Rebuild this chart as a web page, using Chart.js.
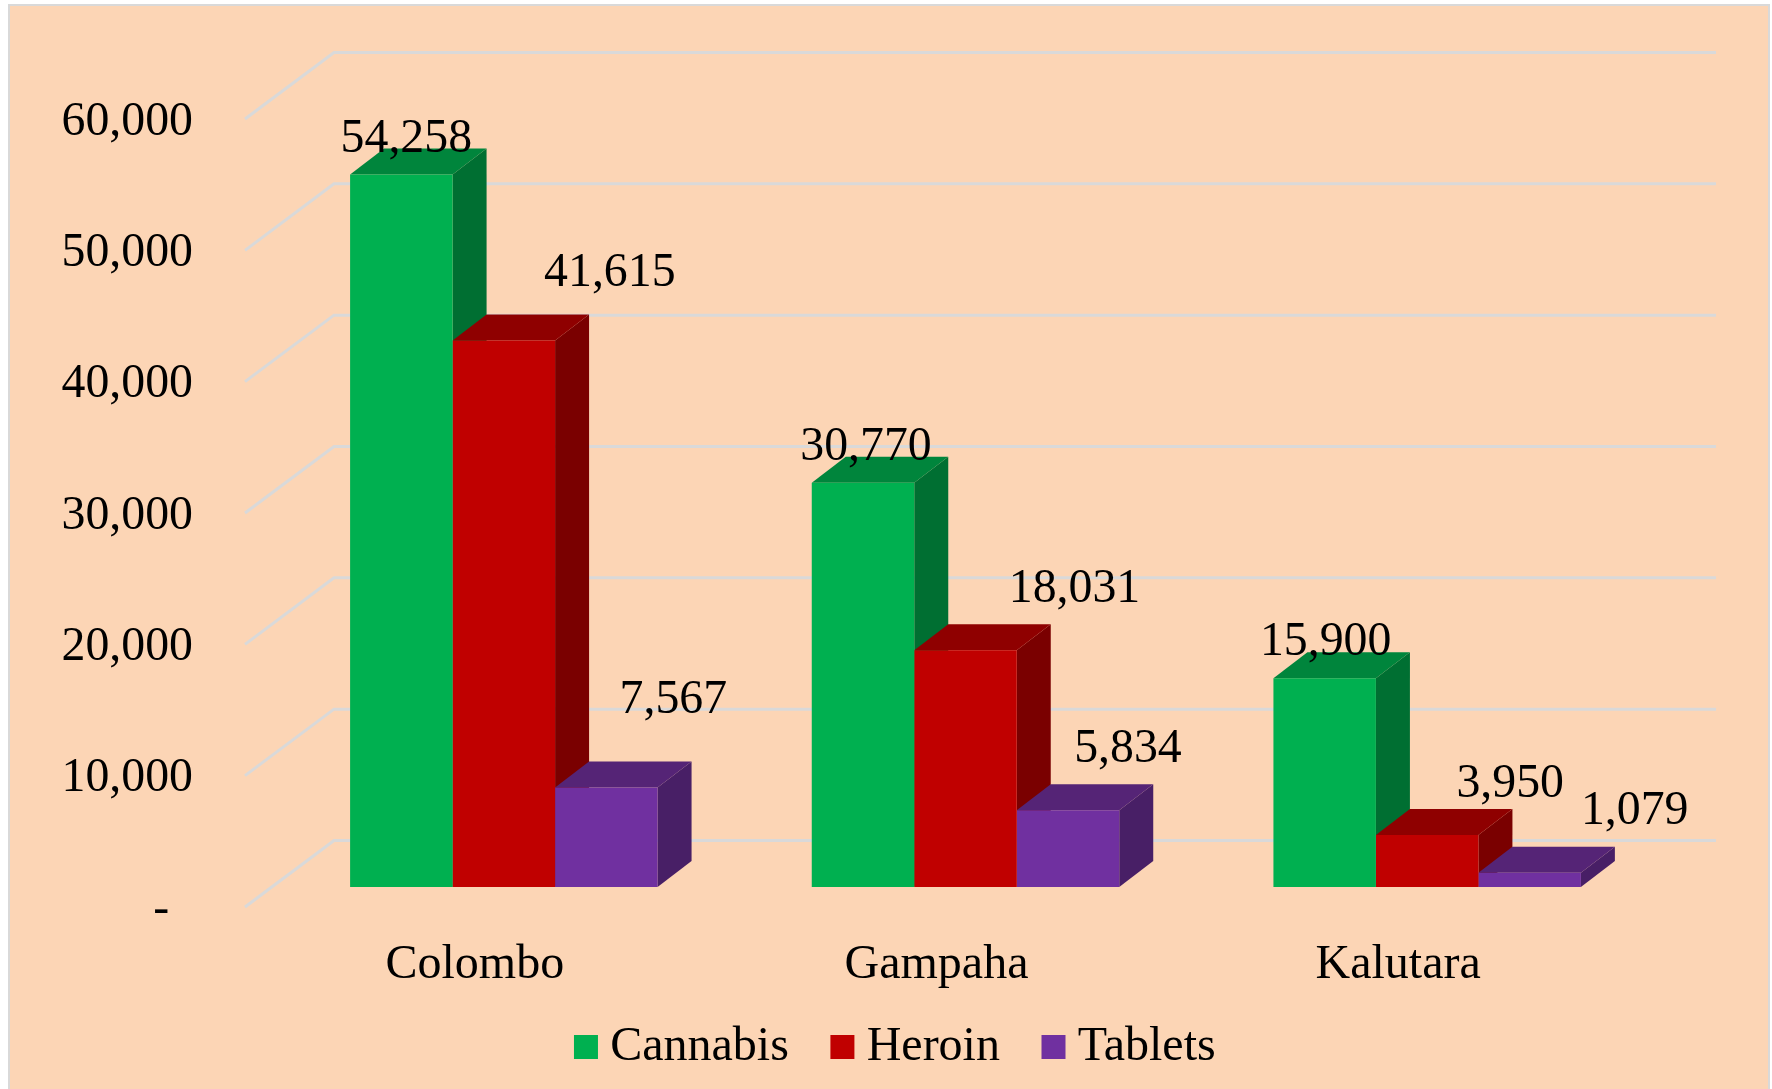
<!DOCTYPE html>
<html>
<head>
<meta charset="utf-8">
<script src="https://cdn.jsdelivr.net/npm/chart.js@4"></script>
<style>
html,body{margin:0;padding:0;background:#fff;overflow:hidden}
#panel{position:absolute;left:8px;top:4px;width:1762px;height:1085px;box-sizing:border-box;background:#FCD5B5;border:2px solid #D9D9D9;border-bottom:none}
#wrap{position:absolute;left:0;top:0;width:1772px;height:1089px}
</style>
</head>
<body>
<div id="panel"></div>
<div id="wrap"><canvas id="c" width="1772" height="1089"></canvas></div>
<script>
const categories = ['Colombo', 'Gampaha', 'Kalutara'];
const seriesNames = ['Cannabis', 'Heroin', 'Tablets'];
const cannabis = [54258, 30770, 15900];
const heroin = [41615, 18031, 3950];
const tablets = [7567, 5834, 1079];

const frontColors = ['#00B050', '#C00000', '#7030A0'];
const sideColors = ['#006F32', '#7A0000', '#481F66'];
const topColors = ['#00853C', '#8F0000', '#552476'];
const labelDx = [[5, 3, 1], [106, 109, 83], [67, 60, 105]];
const labelDy = [[-35, -35, -36], [-67, -61, -51], [-87, -61, -61]];

const FONT = '"Liberation Serif","Times New Roman",serif';
const FS = 47.8;
const FS_LEGEND = 48;
const depthX = 34, depthY = 26;
const gridFrontX = 245, gridBackX = 334, gridEndX = 1716, gridDY = 66.5;
const pxPerUnit = 787 / 60000;
const barPlaneLift = 20;
const barsMin = -barPlaneLift / pxPerUnit;
const legendLift = 27.3;

const wallAndDepth = {
  id: 'wallAndDepth',
  afterLayout(chart) {
    chart.legend.top -= legendLift;
    chart.legend.bottom -= legendLift;
  },
  beforeDatasetsDraw(chart) {
    const ctx = chart.ctx, yS = chart.scales.y;
    ctx.save();
    ctx.strokeStyle = '#D9D9D9';
    ctx.lineWidth = 3;
    ctx.lineJoin = 'miter';
    yS.ticks.forEach(t => {
      const py = yS.getPixelForValue(t.value);
      ctx.beginPath();
      ctx.moveTo(gridFrontX, py);
      ctx.lineTo(gridBackX, py - gridDY);
      ctx.lineTo(gridEndX, py - gridDY);
      ctx.stroke();
    });
    for (let g = 0; g < categories.length; g++) {
      for (let d = 0; d < chart.data.datasets.length; d++) {
        const el = chart.getDatasetMeta(d).data[g];
        const half = el.width / 2, l = el.x - half, r = el.x + half, t = el.y, b = el.base;
        ctx.fillStyle = sideColors[d];
        ctx.beginPath();
        ctx.moveTo(r, t); ctx.lineTo(r + depthX, t - depthY);
        ctx.lineTo(r + depthX, b - depthY); ctx.lineTo(r, b);
        ctx.closePath(); ctx.fill();
        ctx.fillStyle = topColors[d];
        ctx.beginPath();
        ctx.moveTo(l, t); ctx.lineTo(l + depthX, t - depthY);
        ctx.lineTo(r + depthX, t - depthY); ctx.lineTo(r, t);
        ctx.closePath(); ctx.fill();
      }
    }
    ctx.restore();
  }
};

const valueLabels = {
  id: 'valueLabels',
  afterDatasetsDraw(chart) {
    const ctx = chart.ctx;
    ctx.save();
    ctx.font = FS + 'px ' + FONT;
    ctx.fillStyle = '#000';
    ctx.textAlign = 'center';
    ctx.textBaseline = 'middle';
    chart.data.datasets.forEach((ds, d) => {
      chart.getDatasetMeta(d).data.forEach((el, g) => {
        ctx.fillText(ds.data[g].toLocaleString('en-US'), el.x + labelDx[d][g], el.y + labelDy[d][g]);
      });
    });
    ctx.restore();
  }
};

new Chart(document.getElementById('c'), {
  type: 'bar',
  data: {
    labels: categories,
    datasets: [cannabis, heroin, tablets].map((values, i) => ({
      label: seriesNames[i],
      data: values,
      yAxisID: 'yBars',
      backgroundColor: frontColors[i],
      borderWidth: 0,
      categoryPercentage: 0.666,
      barPercentage: 1
    }))
  },
  options: {
    responsive: false,
    animation: false,
    layout: { padding: { left: 29.4, right: 0, top: 119, bottom: -19.3 } },
    plugins: {
      tooltip: { enabled: false },
      legend: {
        position: 'bottom',
        labels: {
          usePointStyle: true,
          pointStyle: 'rect',
          boxWidth: 0.5,
          boxHeight: 24,
          padding: 53.3,
          color: '#000',
          font: { family: FONT, size: FS_LEGEND }
        }
      }
    },
    scales: {
      x: {
        grid: { display: false, drawTicks: false },
        border: { display: false },
        ticks: {
          color: '#000',
          font: { family: FONT, size: FS_LEGEND },
          padding: 30,
          labelOffset: -29,
          autoSkip: false,
          maxRotation: 0
        },
        afterFit(s) { s.height = 90; }
      },
      y: {
        position: 'left',
        min: 0,
        max: 60000,
        grid: { display: false, drawTicks: false },
        border: { display: false },
        ticks: {
          stepSize: 10000,
          color: '#000',
          padding: 80,
          labelOffset: 3,
          font: { family: FONT, size: FS },
          callback: v => v === 0 ? '-  ' : v.toLocaleString('en-US')
        },
        afterFit(s) { s.width = 243.6; }
      },
      yBars: {
        position: 'right',
        min: barsMin,
        max: barsMin + 60000,
        grid: { display: false, drawTicks: false },
        border: { display: false },
        ticks: { display: false },
        afterFit(s) { s.width = 114; }
      }
    }
  },
  plugins: [wallAndDepth, valueLabels]
});
</script>
</body>
</html>
